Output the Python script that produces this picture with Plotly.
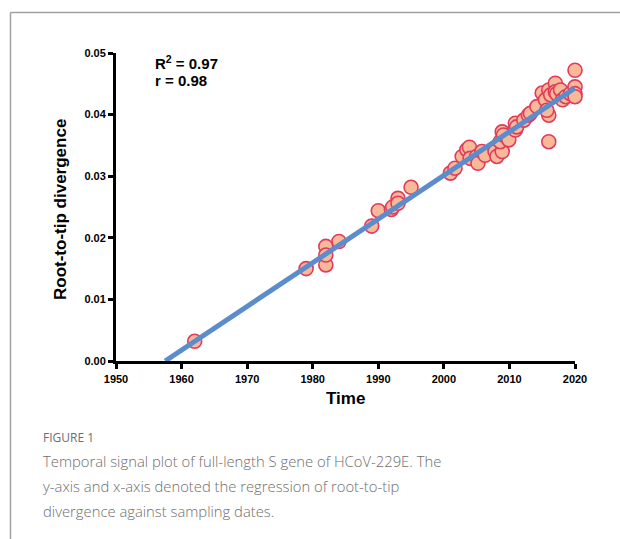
import plotly.graph_objects as go

# ---- data ----
years = [1962, 1979, 1982, 1982, 1982, 1984, 1989, 1990, 1992, 1992.2, 1993, 1993, 1995,
         2001, 2001.7, 2002.8, 2003.5, 2003.9, 2004, 2005, 2005.2, 2005.8, 2006.3, 2007.8,
         2008.1, 2008.9, 2008.6, 2008.9, 2009.1, 2009.9, 2010.9, 2010.9, 2011.1, 2012.2,
         2012.9, 2013.2, 2014.2, 2015, 2015.5, 2016, 2015.7, 2016, 2016, 2016.3, 2017,
         2017, 2017.2, 2017.8, 2018.1, 2018.6, 2019.3, 2020, 2020, 2020, 2020]
divergence = [0.0032, 0.0150, 0.0186, 0.0156, 0.0172, 0.0194, 0.0219, 0.0244, 0.0246, 0.0250,
              0.0264, 0.0256, 0.0282, 0.0305, 0.0313, 0.0332, 0.0343, 0.0347, 0.0329, 0.0332,
              0.0321, 0.0340, 0.0334, 0.0340, 0.0332, 0.0340, 0.0356, 0.0372, 0.0367, 0.0359,
              0.0386, 0.0375, 0.0380, 0.0391, 0.0399, 0.0402, 0.0413, 0.0435, 0.0424, 0.0399,
              0.0407, 0.0356, 0.0440, 0.0432, 0.0451, 0.0437, 0.0434, 0.0440, 0.0424, 0.0429,
              0.0434, 0.0472, 0.0445, 0.0434, 0.0429]
root_date = 1957.5       # x-intercept of regression
rate = 0.000709          # slope (subs/site/year)
fit_end = 2020
x_ticks = [1950, 1960, 1970, 1980, 1990, 2000, 2010, 2020]
y_ticks = [0.00, 0.01, 0.02, 0.03, 0.04, 0.05]
r2_text = "0.97"
r_text = "0.98"

fit_x = [root_date, fit_end]
fit_y = [rate * (x - root_date) for x in fit_x]

fig = go.Figure()
fig.add_trace(go.Scatter(
    x=years, y=divergence, mode="markers",
    marker=dict(size=14, color="#F8B998", line=dict(color="#E23A5C", width=1.6)),
    cliponaxis=False, showlegend=False))
fig.add_trace(go.Scatter(
    x=fit_x, y=fit_y, mode="lines",
    line=dict(color="#5B8CCB", width=5), cliponaxis=False, showlegend=False))

axis_font = dict(family="Liberation Sans, Arial", size=11, color="black", weight="bold")
fig.update_xaxes(range=[1950, 2020], tickvals=x_ticks, ticktext=[str(t) for t in x_ticks],
                 showline=True, linecolor="black", linewidth=3, ticks="outside",
                 ticklen=5, tickwidth=2.5, tickcolor="black", showgrid=False,
                 zeroline=False, tickfont=axis_font, ticklabelstandoff=1)
fig.update_yaxes(range=[0, 0.05], tickvals=y_ticks, ticktext=[f"{t:.2f}" for t in y_ticks],
                 showline=True, linecolor="black", linewidth=3, ticks="outside",
                 ticklen=5, tickwidth=2.5, tickcolor="black", showgrid=False,
                 zeroline=False, tickfont=axis_font, ticklabelstandoff=0)

L, R, T, B = 116, 45, 53, 178
W, H = 620, 539
pw, ph = W - L - R, H - T - B

def px(xp):
    return (xp - L) / pw

def py(yp):
    return (H - B - yp) / ph

ann = []
ann.append(dict(text="<b>R<sup>2</sup> = " + r2_text + "</b>", x=px(153), y=py(63),
                xref="paper", yref="paper", xanchor="left", yanchor="middle", showarrow=False,
                font=dict(family="Liberation Sans, Arial", size=15, color="black")))
ann.append(dict(text="<b>r = " + r_text + "</b>", x=px(153), y=py(80),
                xref="paper", yref="paper", xanchor="left", yanchor="middle", showarrow=False,
                font=dict(family="Liberation Sans, Arial", size=15, color="black")))
ann.append(dict(text="<b>Root-to-tip divergence</b>", textangle=-90, x=px(60), y=py(210),
                xref="paper", yref="paper", xanchor="center", yanchor="middle", showarrow=False,
                font=dict(family="Liberation Sans, Arial", size=17, color="black")))
ann.append(dict(text="<b>Time</b>", x=px(345), y=py(398),
                xref="paper", yref="paper", xanchor="center", yanchor="middle", showarrow=False,
                font=dict(family="Liberation Sans, Arial", size=17, color="black")))
ann.append(dict(text="FIGURE 1", x=px(41), y=py(437),
                xref="paper", yref="paper", xanchor="left", yanchor="middle", showarrow=False,
                font=dict(family="Open Sans", size=12, color="#6e6e6e")))
caption = ["Temporal signal plot of full-length S gene of HCoV-229E. The",
           "y-axis and x-axis denoted the regression of root-to-tip",
           "divergence against sampling dates."]
for i, line in enumerate(caption):
    ann.append(dict(text=line, x=px(41), y=py(461 + 25 * i),
                    xref="paper", yref="paper", xanchor="left", yanchor="middle", showarrow=False,
                    font=dict(family="Open Sans", size=14.8, color="#6e6e6e", weight=300)))

shapes = [
    dict(type="line", xref="paper", yref="paper", x0=px(10.5), x1=px(625), y0=py(12.5), y1=py(12.5),
         line=dict(color="#a0a0a0", width=1.5)),
    dict(type="line", xref="paper", yref="paper", x0=px(10.5), x1=px(10.5), y0=py(12.5), y1=py(545),
         line=dict(color="#a0a0a0", width=1.5)),
]

fig.update_layout(width=W, height=H, margin=dict(l=L, r=R, t=T, b=B),
                  paper_bgcolor="white", plot_bgcolor="white",
                  annotations=ann, shapes=shapes)
fig.write_html("out.html", config={"displayModeBar": False})

# remove default page margin so the figure sits at the window origin
with open("out.html", "r", encoding="utf-8") as f:
    html = f.read()
html = html.replace("<body>", '<body style="margin:0;padding:0;overflow:hidden">', 1)
with open("out.html", "w", encoding="utf-8") as f:
    f.write(html)
